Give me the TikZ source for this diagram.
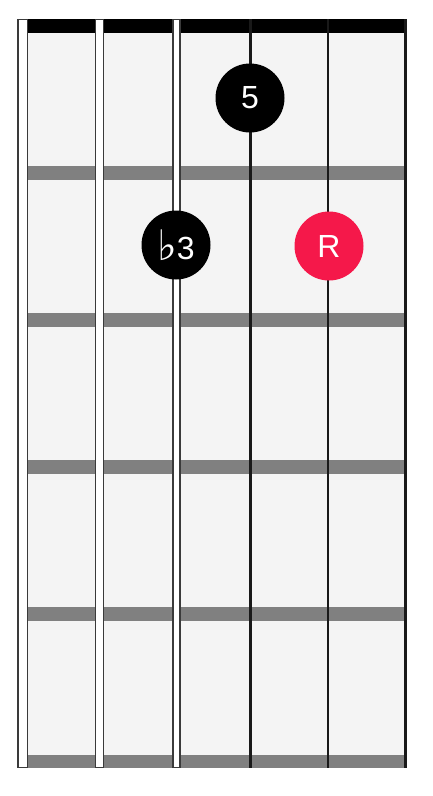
\documentclass[tikz,border=0pt]{standalone}
\usepackage{fontspec}
\setmainfont{Liberation Sans}
\newfontfamily\symfont{DejaVu Sans}
\definecolor{boardbg}{HTML}{F4F4F4}
\definecolor{fretgray}{HTML}{808080}
\definecolor{strokegray}{HTML}{3A3A3A}
\definecolor{rootred}{HTML}{F5184A}
\begin{document}
\begin{tikzpicture}[x=1pt,y=-1pt,
  fretbar/.style={fill=fretgray, draw=none},
  woundstr/.style={fill=white, draw=strokegray, line width=1.6pt},
  plainstr/.style={draw=black!90, line cap=butt},
  notedot/.style={circle, fill=black, minimum size=69pt, inner sep=0pt, text=white, font=\fontsize{32}{32}\selectfont},
  rootdot/.style={notedot, fill=rootred}]
\useasboundingbox (0,0) rectangle (432,796);
% board
\fill[boardbg] (22,33) rectangle (405,768);
% nut
\fill[black] (22,19) rectangle (407,33);
% frets
\foreach \y in {173,320,467,614} {
  \fill[fretgray, fretbar] (22,\y-7) rectangle (405,\y+7);
}
\fill[fretgray] (22,755) rectangle (406,768);
% wound strings
\draw[woundstr] (17.8,19.5) rectangle (27.6,767.5);
\draw[woundstr] (95.4,19.5) rectangle (103.6,767.5);
\draw[woundstr] (173.2,19.5) rectangle (179.8,767.5);
% plain strings
\draw[plainstr, line width=3pt] (250,19) -- (250,768);
\draw[plainstr, line width=2.6pt] (328,19) -- (328,768);
\draw[plainstr, line width=2.2pt] (405.5,19) -- (405.5,768);
% dots
\node[notedot] (five) at (250,98) {5};
\node[notedot] (flat3) at (176,245) {\raisebox{-1pt}{\symfont\fontsize{42}{42}\selectfont ♭}\kern-0.5pt 3};
\node[rootdot] (root) at (329,246) {R};
\end{tikzpicture}
\end{document}
